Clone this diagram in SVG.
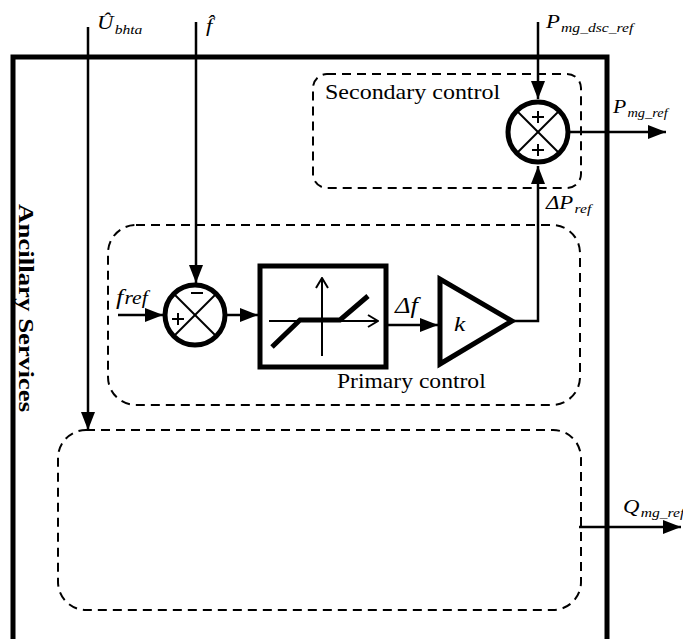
<svg xmlns="http://www.w3.org/2000/svg" width="683" height="639" viewBox="0 0 683 639">
<defs>
<marker id="ah" markerWidth="18" markerHeight="14" refX="18" refY="7" orient="auto" markerUnits="userSpaceOnUse">
<path d="M0,0 L18,7 L0,14 Z" fill="#000"/>
</marker>
<marker id="oa" markerWidth="12" markerHeight="14" refX="11" refY="7" orient="auto" markerUnits="userSpaceOnUse">
<path d="M1,1 L11,7 L1,13" fill="none" stroke="#000" stroke-width="2"/>
</marker>
<style>
.frame{fill:none;stroke:#000;stroke-width:5}
.dash{fill:none;stroke:#000;stroke-width:2;stroke-dasharray:9,6}
.blk{fill:#fff;stroke:#000;stroke-width:5}
.thin{fill:none;stroke:#000;stroke-width:2}
.wire{fill:none;stroke:#000;stroke-width:2.5}
.lbl{font-family:"Liberation Serif","Times New Roman",serif;fill:#000}
.it{font-style:italic}
</style>
</defs>
<rect class="frame" x="13" y="57" width="594" height="600"/>
<text class="lbl" transform="translate(19,204) rotate(90) scale(1.28,1)" font-size="21" font-weight="bold">Ancillary Services</text>

<g id="secondary-control">
<rect class="dash" x="313" y="74" width="268" height="114" rx="14"/>
<text class="lbl" transform="translate(325,99) scale(1.2,1)" font-size="20">Secondary control</text>
</g>
<g id="primary-control">
<rect class="dash" x="108" y="225" width="472" height="180" rx="28"/>
<text class="lbl" transform="translate(337,388) scale(1.18,1)" font-size="20">Primary control</text>
</g>
<g id="reactive-box">
<rect class="dash" x="58" y="430" width="523" height="180" rx="28"/>
</g>

<g id="connectors">
<line class="wire" x1="88" y1="27" x2="88" y2="430" marker-end="url(#ah)"/>
<line class="wire" x1="196" y1="22" x2="196" y2="283" marker-end="url(#ah)"/>
<line class="wire" x1="118" y1="315" x2="163" y2="315" marker-end="url(#ah)"/>
<line class="wire" x1="227" y1="315" x2="258" y2="315" marker-end="url(#ah)"/>
<line class="wire" x1="387" y1="325" x2="438" y2="325" marker-end="url(#ah)"/>
<polyline class="wire" points="512,321 538,321 538,166" marker-end="url(#ah)"/>
<line class="wire" x1="538" y1="22" x2="538" y2="99" marker-end="url(#ah)"/>
<line class="wire" x1="570" y1="132" x2="666" y2="132" marker-end="url(#ah)"/>
<line class="wire" x1="579" y1="527" x2="681" y2="527" marker-end="url(#ah)"/>
</g>

<g id="sum1">
<circle class="blk" cx="195" cy="315" r="30"/>
<line class="thin" x1="174" y1="294" x2="216" y2="336"/>
<line class="thin" x1="216" y1="294" x2="174" y2="336"/>
<line class="thin" x1="191" y1="293" x2="203" y2="293"/>
<line class="thin" x1="172" y1="319" x2="184" y2="319"/>
<line class="thin" x1="178" y1="313" x2="178" y2="325"/>
</g>

<g id="deadzone">
<rect class="blk" x="260" y="266" width="126" height="101"/>
<line class="thin" x1="322" y1="356" x2="322" y2="278" marker-end="url(#oa)"/>
<line class="thin" x1="269" y1="321" x2="378" y2="321" marker-end="url(#oa)"/>
<polyline fill="none" stroke="#000" stroke-width="5" points="272,347 300,320 340,320 368,296"/>
</g>

<g id="gain">
<polygon class="blk" points="440,279 440,364 512,321"/>
<text class="lbl it" transform="translate(454,331) scale(1.15,1)" font-size="22">k</text>
</g>

<g id="sum2">
<circle class="blk" cx="538" cy="132" r="30"/>
<line class="thin" x1="517" y1="111" x2="559" y2="153"/>
<line class="thin" x1="559" y1="111" x2="517" y2="153"/>
<line class="thin" x1="532" y1="117" x2="544" y2="117"/>
<line class="thin" x1="538" y1="111" x2="538" y2="123"/>
<line class="thin" x1="532" y1="150" x2="544" y2="150"/>
<line class="thin" x1="538" y1="144" x2="538" y2="156"/>
</g>

<g id="labels">
<text class="lbl it" transform="translate(97,29) scale(1.2,1)" font-size="19">Û<tspan font-size="13" dx="1" dy="5">bhta</tspan></text>
<text class="lbl it" transform="translate(206,32) scale(1.2,1)" font-size="19">f̂</text>
<text class="lbl it" transform="translate(546,28) scale(1.2,1)" font-size="19">P<tspan font-size="13" dx="1" dy="4">mg_dsc_ref</tspan></text>
<text class="lbl it" transform="translate(613,113) scale(1.2,1)" font-size="18">P<tspan font-size="12" dx="1" dy="4">mg_ref</tspan></text>
<text class="lbl it" transform="translate(546,209) scale(1.2,1)" font-size="19">ΔP<tspan font-size="13" dx="1" dy="4">ref</tspan></text>
<text class="lbl it" transform="translate(116,304) scale(1.2,1)" font-size="22">f<tspan font-size="18" dx="1" dy="0">ref</tspan></text>
<text class="lbl it" transform="translate(395,313) scale(1.15,1)" font-size="23">Δf</text>
<text class="lbl it" transform="translate(623,513) scale(1.2,1)" font-size="19">Q<tspan font-size="13" dx="1" dy="4">mg_ref</tspan></text>
</g>
</svg>
